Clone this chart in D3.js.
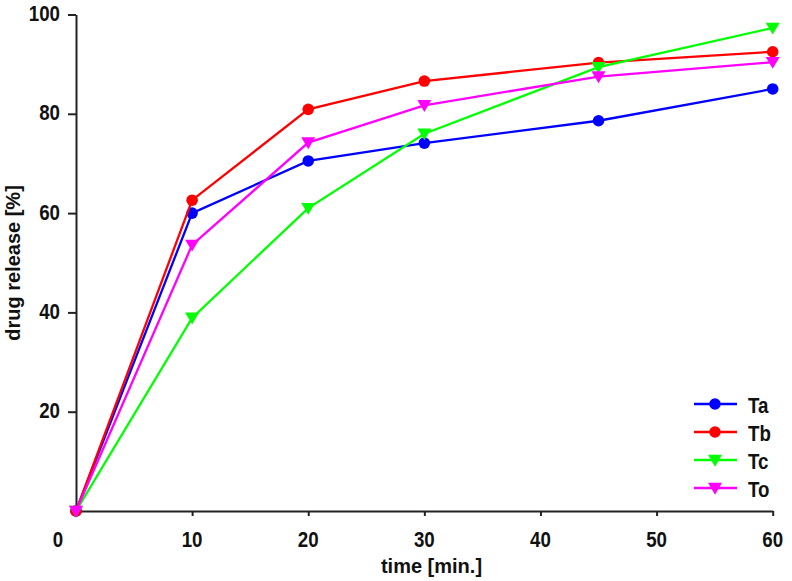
<!DOCTYPE html>
<html><head><meta charset="utf-8">
<script src="https://cdn.jsdelivr.net/npm/d3@7"></script>
<style>
body{margin:0;background:#fff;}
text{font-family:"Liberation Sans",Arial,sans-serif;font-weight:bold;fill:#111;}
</style></head><body>
<svg id="c" width="792" height="581"></svg>
<script>
const times = [0, 10, 20, 30, 45, 60];
const seriesNames = ["Ta", "Tb", "Tc", "To"];
const Ta = [0, 60.0, 70.5, 74.1, 78.6, 85.0];
const Tb = [0, 62.6, 80.9, 86.6, 90.3, 92.5];
const Tc = [0, 38.9, 61.0, 76.0, 89.4, 97.3];
const To = [0, 53.6, 74.2, 81.7, 87.5, 90.4];
const colors = ["#0000ff", "#ff0000", "#00ff00", "#ff00ff"];
const markers = ["circle", "circle", "tri", "tri"];
const xTicks = [10, 20, 30, 40, 50, 60];
const yTicks = [20, 40, 60, 80, 100];

const data = [Ta, Tb, Tc, To];
const svg = d3.select("#c");
const L = 76, T = 14.5, W = 696.7, H = 496.5;
const x = d3.scaleLinear().domain([0, 60]).range([L, L + W]);
const y = d3.scaleLinear().domain([0, 100]).range([T + H, T]);
const SX = 0.85, FS = 22;

function ntext(px, py, str, anchor) {
  return svg.append("text").attr("transform", `translate(${px},${py}) scale(${SX},1)`)
    .attr("text-anchor", anchor).attr("font-size", FS).text(str);
}

const xa = svg.append("g").attr("transform", `translate(0,${T + H})`)
  .call(d3.axisBottom(x).tickValues(xTicks).tickSize(5).tickFormat("").tickSizeOuter(0));
const ya = svg.append("g").attr("transform", `translate(${L},0)`)
  .call(d3.axisLeft(y).tickValues(yTicks).tickSize(8).tickFormat("").tickSizeOuter(0));
[xa, ya].forEach(a => {
  a.select(".domain").attr("stroke", "#222").attr("stroke-width", 2);
  a.selectAll(".tick line").attr("stroke", "#222").attr("stroke-width", 2);
});
xTicks.forEach(t => ntext(x(t), 547, String(t), "middle"));
yTicks.forEach(t => ntext(60, y(t) + 6.5, String(t), "end"));
ntext(58, 547, "0", "middle");

svg.append("text").attr("x", 431.5).attr("y", 573).attr("text-anchor", "middle")
  .attr("font-size", 20).text("time [min.]");
svg.append("text").attr("transform", `translate(19.5,263) rotate(-90)`)
  .attr("text-anchor", "middle").attr("font-size", 20).text("drug release [%]");

function marker(g, kind, cx, cy, col) {
  if (kind === "circle") {
    g.append("circle").attr("cx", cx).attr("cy", cy).attr("r", 5.8).attr("fill", col);
  } else {
    const s = 7;
    g.append("path").attr("d", `M${cx - s},${cy - s * 0.75}L${cx + s},${cy - s * 0.75}L${cx},${cy + s * 0.95}Z`).attr("fill", col);
  }
}

const line = d3.line().x((d, i) => x(times[i])).y(d => y(d));
data.forEach((vals, k) => {
  const g = svg.append("g");
  g.append("path").attr("d", line(vals)).attr("fill", "none")
    .attr("stroke", colors[k]).attr("stroke-width", 2.3);
  vals.forEach((v, i) => marker(g, markers[k], x(times[i]), y(v), colors[k]));
});

// legend
seriesNames.forEach((n, k) => {
  const yy = 404 + k * 28;
  svg.append("line").attr("x1", 694).attr("x2", 737).attr("y1", yy).attr("y2", yy)
    .attr("stroke", colors[k]).attr("stroke-width", 2.3);
  marker(svg, markers[k], 715, yy, colors[k]);
  ntext(748, yy + 8.5, n, "start");
});
</script></body></html>
